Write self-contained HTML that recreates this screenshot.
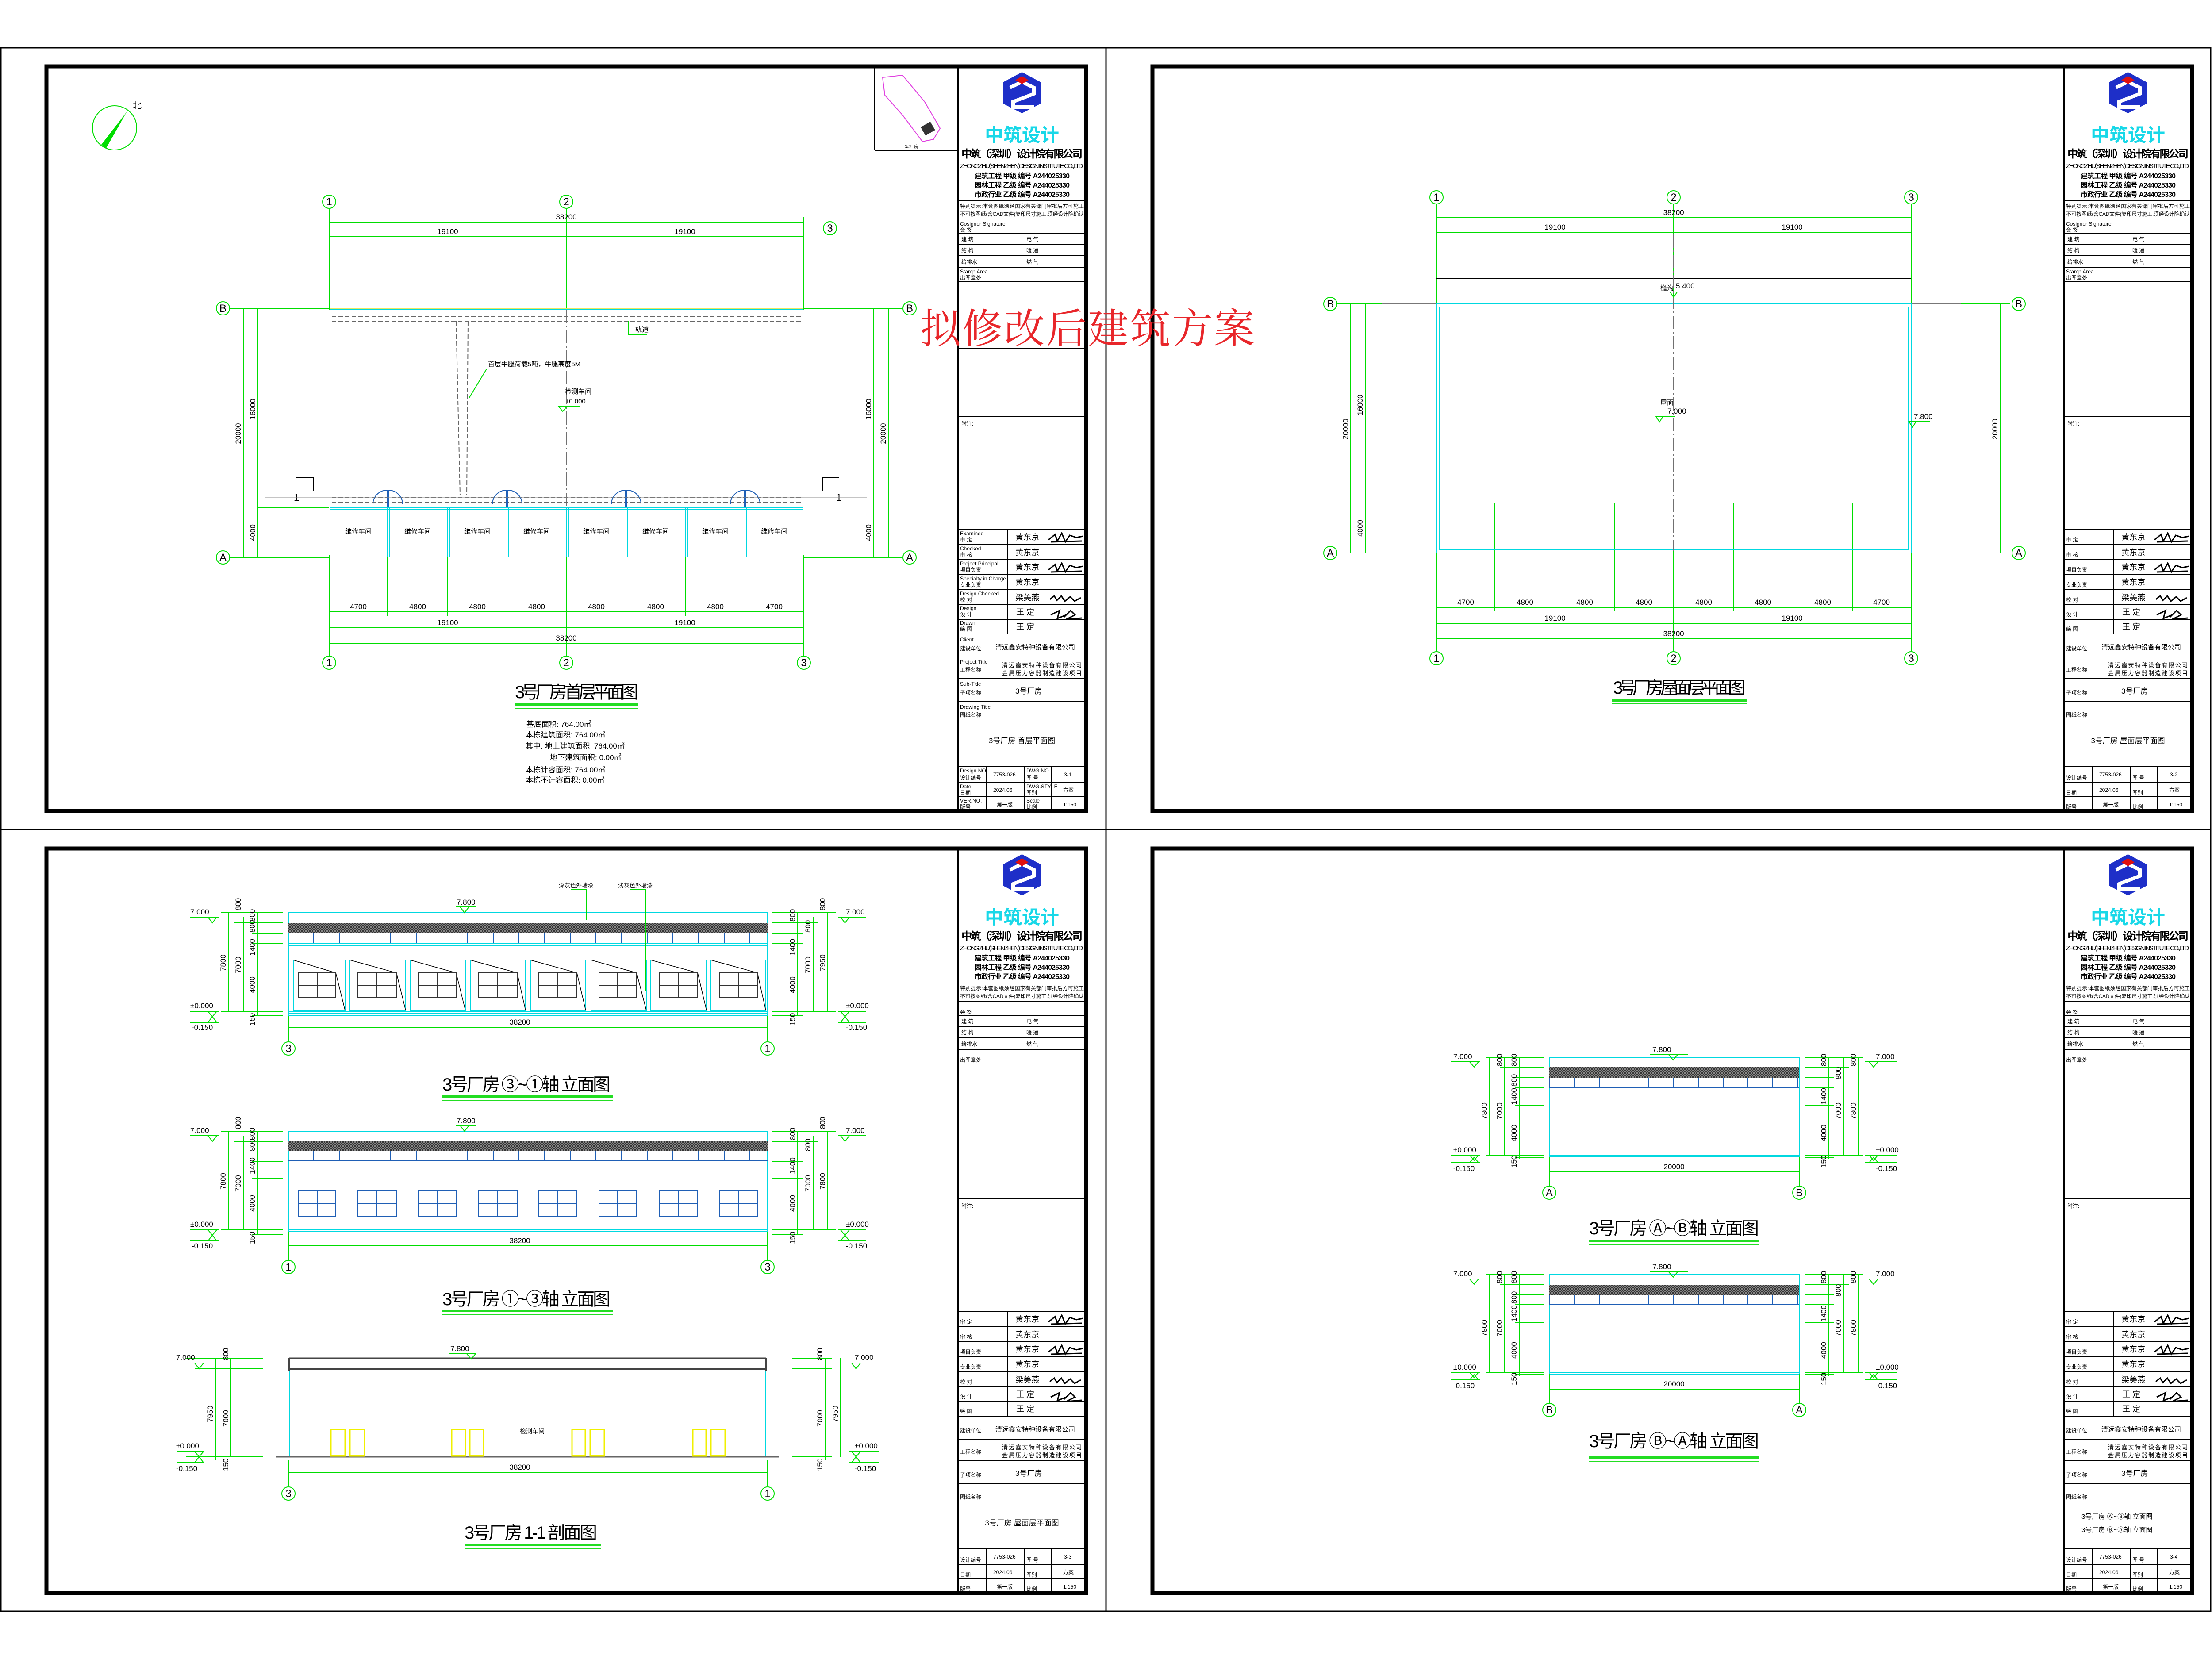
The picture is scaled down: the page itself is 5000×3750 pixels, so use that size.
<!DOCTYPE html>
<html><head><meta charset="utf-8"><style>
html,body{margin:0;padding:0;background:#fff;width:5000px;height:3750px;overflow:hidden}
svg{display:block}
text{font-family:"Liberation Sans","Noto Sans CJK SC",sans-serif;fill:#000}
.g{stroke:#00dd00;fill:none;stroke-width:2}
.c{stroke:#00d8e0;fill:none;stroke-width:2}
.k{stroke:#000;fill:none}
.gr{stroke:#707070;fill:none;stroke-width:2;stroke-dasharray:30 6 4 6}
.b{stroke:#1f5fb5;fill:none;stroke-width:2}
.d{font-size:17px}
.ax{font-size:24px;text-anchor:middle}
.t{font-size:40px}
.tb{font-size:12px}
</style></head><body>
<svg width="5000" height="3750" viewBox="0 0 5000 3750" xmlns="http://www.w3.org/2000/svg">
<defs>
<pattern id="hatch" width="6" height="6" patternUnits="userSpaceOnUse"><rect width="6" height="6" fill="#888"/><rect width="3" height="3" fill="#333"/><rect x="3" y="3" width="3" height="3" fill="#333"/></pattern>
</defs>
<rect x="0" y="0" width="5000" height="3750" fill="#fff"/>
<!-- sheet lines -->
<g class="k" stroke-width="3">
<rect x="2" y="108" width="4995" height="3534"/>
<line x1="2500" y1="108" x2="2500" y2="3642"/>
<line x1="2" y1="1875" x2="4997" y2="1875"/>
</g>
<!-- frames -->
<g class="k" stroke-width="9">
<rect x="105" y="150" width="2350" height="1683"/>
<rect x="2605" y="150" width="2350" height="1683"/>
<rect x="105" y="1918" width="2350" height="1683"/>
<rect x="2605" y="1918" width="2350" height="1683"/>
</g>

<!-- ============ TITLE BLOCKS ============ -->
<g transform="translate(2165,150)">
<g class="k" stroke-width="2"><line x1="0" y1="0" x2="0" y2="1683" stroke-width="4"/>
<line x1="0" y1="304" x2="290" y2="304"/><line x1="0" y1="345" x2="290" y2="345"/><line x1="0" y1="377" x2="290" y2="377"/><line x1="0" y1="402" x2="290" y2="402"/><line x1="0" y1="427" x2="290" y2="427"/><line x1="0" y1="454" x2="290" y2="454"/><line x1="0" y1="487" x2="290" y2="487"/><line x1="0" y1="638" x2="290" y2="638"/><line x1="0" y1="792" x2="290" y2="792"/>
<line x1="48" y1="377" x2="48" y2="454"/><line x1="145" y1="377" x2="145" y2="454"/><line x1="197" y1="377" x2="197" y2="454"/>
<line x1="0" y1="1046" x2="290" y2="1046"/><line x1="0" y1="1080" x2="290" y2="1080"/><line x1="0" y1="1115" x2="290" y2="1115"/><line x1="0" y1="1148" x2="290" y2="1148"/><line x1="0" y1="1183" x2="290" y2="1183"/><line x1="0" y1="1217" x2="290" y2="1217"/><line x1="0" y1="1250" x2="290" y2="1250"/><line x1="0" y1="1283" x2="290" y2="1283"/>
<line x1="112" y1="1046" x2="112" y2="1283"/><line x1="197" y1="1046" x2="197" y2="1283"/>
<line x1="0" y1="1335" x2="290" y2="1335"/><line x1="0" y1="1384" x2="290" y2="1384"/><line x1="0" y1="1436" x2="290" y2="1436"/><line x1="0" y1="1582" x2="290" y2="1582"/><line x1="0" y1="1618" x2="290" y2="1618"/><line x1="0" y1="1651" x2="290" y2="1651"/>
<line x1="65" y1="1582" x2="65" y2="1683"/><line x1="150" y1="1582" x2="150" y2="1683"/><line x1="212" y1="1582" x2="212" y2="1683"/></g>
<polygon points="145,13 188,36 188,84 145,106 102,84 102,36" fill="#1e2fc8"/>
<polyline points="118,48 145,35 172,48 172,62 125,80 125,92 172,92" fill="none" stroke="#fff" stroke-width="8"/>
<polygon points="145,22 160,31 145,40 130,31" fill="#e01010"/>
<text x="145" y="170" font-size="42" font-weight="bold" text-anchor="middle" style="fill:#18d8e8">中筑设计</text>
<text x="8" y="206" font-size="24" font-weight="bold" textLength="274">中筑（深圳）设计院有限公司</text>
<text x="5" y="230" font-size="15" textLength="280">ZHONGZHU(SHENZHEN)DESIGN INSTITUTE CO.,LTD.</text>
<text x="38" y="253" font-size="16" font-weight="bold" textLength="215">建筑工程 甲级  编号 A244025330</text>
<text x="38" y="274" font-size="16" font-weight="bold" textLength="215">园林工程 乙级  编号 A244025330</text>
<text x="38" y="295" font-size="16" font-weight="bold" textLength="215">市政行业 乙级  编号 A244025330</text>
<text x="5" y="320" class="tb" textLength="280">特别提示:本套图纸须经国家有关部门审批后方可施工</text>
<text x="5" y="338" class="tb" textLength="280">不可按图纸(含CAD文件)复印尺寸施工,须经设计院确认</text>
<text x="5" y="360" class="tb">Cosigner Signature</text><text x="5" y="374" class="tb">会 签</text>
<text x="8" y="395" class="tb">建 筑</text><text x="155" y="395" class="tb">电 气</text>
<text x="8" y="420" class="tb">结 构</text><text x="155" y="420" class="tb">暖 通</text>
<text x="8" y="446" class="tb">给排水</text><text x="155" y="446" class="tb">燃 气</text>
<text x="5" y="468" class="tb">Stamp Area</text><text x="5" y="482" class="tb">出图章处</text>
<text x="8" y="812" class="tb">附注:</text>
<g class="tb"><text x="5" y="1060" class="tb">Examined</text><text x="5" y="1074" class="tb">审 定</text>
<text x="5" y="1094" class="tb">Checked</text><text x="5" y="1108" class="tb">审 核</text>
<text x="5" y="1128" class="tb">Project Principal</text><text x="5" y="1142" class="tb">项目负责</text>
<text x="5" y="1162" class="tb">Specialty in Charge</text><text x="5" y="1176" class="tb">专业负责</text>
<text x="5" y="1196" class="tb">Design Checked</text><text x="5" y="1210" class="tb">校 对</text>
<text x="5" y="1229" class="tb">Design</text><text x="5" y="1243" class="tb">设 计</text>
<text x="5" y="1262" class="tb">Drawn</text><text x="5" y="1276" class="tb">绘 图</text></g>
<g font-size="18"><text x="130" y="1070">黄东京</text><text x="130" y="1105">黄东京</text><text x="130" y="1138">黄东京</text><text x="130" y="1172">黄东京</text><text x="130" y="1207">梁美燕</text><text x="132" y="1240">王 定</text><text x="132" y="1273">王 定</text></g>
<g stroke="#000" stroke-width="3" fill="none">
<path d="M205,1070 l15,-12 l5,15 l10,-18 l8,20 l10,-15 l15,5 l15,-3 M210,1075 l70,-2"/>
<path d="M205,1138 l15,-12 l5,15 l10,-18 l8,20 l10,-15 l15,5 l15,-3 M210,1143 l70,-2"/>
<path d="M208,1205 l10,-8 l6,10 l10,-10 l8,12 l12,-10 l10,10 l14,-8"/>
<path d="M210,1240 l20,-10 l-5,18 l20,-8 M240,1245 l15,-15 l10,10 l-20,10 l35,-3"/>
</g>
<text x="5" y="1300" class="tb">Client</text><text x="5" y="1320" class="tb">建设单位</text>
<text x="85" y="1318" font-size="15">清远鑫安特种设备有限公司</text>
<text x="5" y="1350" class="tb">Project Title</text><text x="5" y="1368" class="tb">工程名称</text>
<text x="100" y="1358" font-size="13" textLength="180">清远鑫安特种设备有限公司</text>
<text x="100" y="1376" font-size="13" textLength="180">金属压力容器制造建设项目</text>
<text x="5" y="1400" class="tb">Sub-Title</text><text x="5" y="1420" class="tb">子项名称</text>
<text x="130" y="1418" font-size="17">3号厂房</text>
<text x="5" y="1452" class="tb">Drawing Title</text><text x="5" y="1470" class="tb">图纸名称</text>
<text x="5" y="1596" class="tb">Design NO.</text><text x="5" y="1612" class="tb">设计编号</text><text x="80" y="1605" class="tb">7753-026</text>
<text x="155" y="1596" class="tb">DWG.NO.</text><text x="155" y="1612" class="tb">图 号</text>
<text x="5" y="1632" class="tb">Date</text><text x="5" y="1646" class="tb">日期</text><text x="80" y="1640" class="tb">2024.06</text>
<text x="155" y="1632" class="tb">DWG.STYLE</text><text x="155" y="1646" class="tb">图别</text><text x="238" y="1640" class="tb">方案</text>
<text x="5" y="1664" class="tb">VER.NO.</text><text x="5" y="1678" class="tb">版号</text><text x="88" y="1673" class="tb">第一版</text>
<text x="155" y="1664" class="tb">Scale</text><text x="155" y="1678" class="tb">比例</text><text x="238" y="1673" class="tb">1:150</text>
<text x="145" y="1530" font-size="17" text-anchor="middle">3号厂房 首层平面图</text>
<text x="240" y="1605" class="tb">3-1</text>
</g>

<g transform="translate(4665,150)">
<g class="k" stroke-width="2"><line x1="0" y1="0" x2="0" y2="1683" stroke-width="4"/>
<line x1="0" y1="304" x2="290" y2="304"/><line x1="0" y1="345" x2="290" y2="345"/><line x1="0" y1="377" x2="290" y2="377"/><line x1="0" y1="402" x2="290" y2="402"/><line x1="0" y1="427" x2="290" y2="427"/><line x1="0" y1="454" x2="290" y2="454"/><line x1="0" y1="487" x2="290" y2="487"/><line x1="0" y1="792" x2="290" y2="792"/>
<line x1="48" y1="377" x2="48" y2="454"/><line x1="145" y1="377" x2="145" y2="454"/><line x1="197" y1="377" x2="197" y2="454"/>
<line x1="0" y1="1046" x2="290" y2="1046"/><line x1="0" y1="1080" x2="290" y2="1080"/><line x1="0" y1="1115" x2="290" y2="1115"/><line x1="0" y1="1148" x2="290" y2="1148"/><line x1="0" y1="1183" x2="290" y2="1183"/><line x1="0" y1="1217" x2="290" y2="1217"/><line x1="0" y1="1250" x2="290" y2="1250"/><line x1="0" y1="1283" x2="290" y2="1283"/>
<line x1="112" y1="1046" x2="112" y2="1283"/><line x1="197" y1="1046" x2="197" y2="1283"/>
<line x1="0" y1="1335" x2="290" y2="1335"/><line x1="0" y1="1384" x2="290" y2="1384"/><line x1="0" y1="1436" x2="290" y2="1436"/><line x1="0" y1="1582" x2="290" y2="1582"/><line x1="0" y1="1618" x2="290" y2="1618"/><line x1="0" y1="1651" x2="290" y2="1651"/>
<line x1="65" y1="1582" x2="65" y2="1683"/><line x1="150" y1="1582" x2="150" y2="1683"/><line x1="212" y1="1582" x2="212" y2="1683"/></g>
<polygon points="145,13 188,36 188,84 145,106 102,84 102,36" fill="#1e2fc8"/>
<polyline points="118,48 145,35 172,48 172,62 125,80 125,92 172,92" fill="none" stroke="#fff" stroke-width="8"/>
<polygon points="145,22 160,31 145,40 130,31" fill="#e01010"/>
<text x="145" y="170" font-size="42" font-weight="bold" text-anchor="middle" style="fill:#18d8e8">中筑设计</text>
<text x="8" y="206" font-size="24" font-weight="bold" textLength="274">中筑（深圳）设计院有限公司</text>
<text x="5" y="230" font-size="15" textLength="280">ZHONGZHU(SHENZHEN)DESIGN INSTITUTE CO.,LTD.</text>
<text x="38" y="253" font-size="16" font-weight="bold" textLength="215">建筑工程 甲级  编号 A244025330</text>
<text x="38" y="274" font-size="16" font-weight="bold" textLength="215">园林工程 乙级  编号 A244025330</text>
<text x="38" y="295" font-size="16" font-weight="bold" textLength="215">市政行业 乙级  编号 A244025330</text>
<text x="5" y="320" class="tb" textLength="280">特别提示:本套图纸须经国家有关部门审批后方可施工</text>
<text x="5" y="338" class="tb" textLength="280">不可按图纸(含CAD文件)复印尺寸施工,须经设计院确认</text>
<text x="5" y="360" class="tb">Cosigner Signature</text><text x="5" y="374" class="tb">会 签</text>
<text x="8" y="395" class="tb">建 筑</text><text x="155" y="395" class="tb">电 气</text>
<text x="8" y="420" class="tb">结 构</text><text x="155" y="420" class="tb">暖 通</text>
<text x="8" y="446" class="tb">给排水</text><text x="155" y="446" class="tb">燃 气</text>
<text x="5" y="468" class="tb">Stamp Area</text><text x="5" y="482" class="tb">出图章处</text>
<text x="8" y="812" class="tb">附注:</text>
<text x="5" y="1074" class="tb">审 定</text><text x="5" y="1108" class="tb">审 核</text><text x="5" y="1142" class="tb">项目负责</text><text x="5" y="1176" class="tb">专业负责</text><text x="5" y="1210" class="tb">校 对</text><text x="5" y="1243" class="tb">设 计</text><text x="5" y="1276" class="tb">绘 图</text>
<g font-size="18"><text x="130" y="1070">黄东京</text><text x="130" y="1105">黄东京</text><text x="130" y="1138">黄东京</text><text x="130" y="1172">黄东京</text><text x="130" y="1207">梁美燕</text><text x="132" y="1240">王 定</text><text x="132" y="1273">王 定</text></g>
<g stroke="#000" stroke-width="3" fill="none">
<path d="M205,1070 l15,-12 l5,15 l10,-18 l8,20 l10,-15 l15,5 l15,-3 M210,1075 l70,-2"/>
<path d="M205,1138 l15,-12 l5,15 l10,-18 l8,20 l10,-15 l15,5 l15,-3 M210,1143 l70,-2"/>
<path d="M208,1205 l10,-8 l6,10 l10,-10 l8,12 l12,-10 l10,10 l14,-8"/>
<path d="M210,1240 l20,-10 l-5,18 l20,-8 M240,1245 l15,-15 l10,10 l-20,10 l35,-3"/>
</g>
<text x="5" y="1320" class="tb">建设单位</text><text x="85" y="1318" font-size="15">清远鑫安特种设备有限公司</text>
<text x="5" y="1368" class="tb">工程名称</text>
<text x="100" y="1358" font-size="13" textLength="180">清远鑫安特种设备有限公司</text>
<text x="100" y="1376" font-size="13" textLength="180">金属压力容器制造建设项目</text>
<text x="5" y="1420" class="tb">子项名称</text><text x="130" y="1418" font-size="17">3号厂房</text>
<text x="5" y="1470" class="tb">图纸名称</text>
<text x="5" y="1612" class="tb">设计编号</text><text x="80" y="1605" class="tb">7753-026</text><text x="155" y="1612" class="tb">图 号</text><text x="240" y="1605" class="tb">3-2</text>
<text x="5" y="1646" class="tb">日期</text><text x="80" y="1640" class="tb">2024.06</text><text x="155" y="1646" class="tb">图别</text><text x="238" y="1640" class="tb">方案</text>
<text x="5" y="1678" class="tb">版号</text><text x="88" y="1673" class="tb">第一版</text><text x="155" y="1678" class="tb">比例</text><text x="238" y="1673" class="tb">1:150</text>
<text x="145" y="1530" font-size="17" text-anchor="middle">3号厂房 屋面层平面图</text>
</g>

<g transform="translate(2165,1918)">
<g class="k" stroke-width="2"><line x1="0" y1="0" x2="0" y2="1683" stroke-width="4"/>
<line x1="0" y1="304" x2="290" y2="304"/><line x1="0" y1="345" x2="290" y2="345"/><line x1="0" y1="377" x2="290" y2="377"/><line x1="0" y1="402" x2="290" y2="402"/><line x1="0" y1="427" x2="290" y2="427"/><line x1="0" y1="454" x2="290" y2="454"/><line x1="0" y1="487" x2="290" y2="487"/><line x1="0" y1="792" x2="290" y2="792"/>
<line x1="48" y1="377" x2="48" y2="454"/><line x1="145" y1="377" x2="145" y2="454"/><line x1="197" y1="377" x2="197" y2="454"/>
<line x1="0" y1="1046" x2="290" y2="1046"/><line x1="0" y1="1080" x2="290" y2="1080"/><line x1="0" y1="1115" x2="290" y2="1115"/><line x1="0" y1="1148" x2="290" y2="1148"/><line x1="0" y1="1183" x2="290" y2="1183"/><line x1="0" y1="1217" x2="290" y2="1217"/><line x1="0" y1="1250" x2="290" y2="1250"/><line x1="0" y1="1283" x2="290" y2="1283"/>
<line x1="112" y1="1046" x2="112" y2="1283"/><line x1="197" y1="1046" x2="197" y2="1283"/>
<line x1="0" y1="1335" x2="290" y2="1335"/><line x1="0" y1="1384" x2="290" y2="1384"/><line x1="0" y1="1436" x2="290" y2="1436"/><line x1="0" y1="1582" x2="290" y2="1582"/><line x1="0" y1="1618" x2="290" y2="1618"/><line x1="0" y1="1651" x2="290" y2="1651"/>
<line x1="65" y1="1582" x2="65" y2="1683"/><line x1="150" y1="1582" x2="150" y2="1683"/><line x1="212" y1="1582" x2="212" y2="1683"/></g>
<polygon points="145,13 188,36 188,84 145,106 102,84 102,36" fill="#1e2fc8"/>
<polyline points="118,48 145,35 172,48 172,62 125,80 125,92 172,92" fill="none" stroke="#fff" stroke-width="8"/>
<polygon points="145,22 160,31 145,40 130,31" fill="#e01010"/>
<text x="145" y="170" font-size="42" font-weight="bold" text-anchor="middle" style="fill:#18d8e8">中筑设计</text>
<text x="8" y="206" font-size="24" font-weight="bold" textLength="274">中筑（深圳）设计院有限公司</text>
<text x="5" y="230" font-size="15" textLength="280">ZHONGZHU(SHENZHEN)DESIGN INSTITUTE CO.,LTD.</text>
<text x="38" y="253" font-size="16" font-weight="bold" textLength="215">建筑工程 甲级  编号 A244025330</text>
<text x="38" y="274" font-size="16" font-weight="bold" textLength="215">园林工程 乙级  编号 A244025330</text>
<text x="38" y="295" font-size="16" font-weight="bold" textLength="215">市政行业 乙级  编号 A244025330</text>
<text x="5" y="320" class="tb" textLength="280">特别提示:本套图纸须经国家有关部门审批后方可施工</text>
<text x="5" y="338" class="tb" textLength="280">不可按图纸(含CAD文件)复印尺寸施工,须经设计院确认</text>
<text x="5" y="374" class="tb">会 签</text>
<text x="8" y="395" class="tb">建 筑</text><text x="155" y="395" class="tb">电 气</text>
<text x="8" y="420" class="tb">结 构</text><text x="155" y="420" class="tb">暖 通</text>
<text x="8" y="446" class="tb">给排水</text><text x="155" y="446" class="tb">燃 气</text>
<text x="5" y="482" class="tb">出图章处</text>
<text x="8" y="812" class="tb">附注:</text>
<text x="5" y="1074" class="tb">审 定</text><text x="5" y="1108" class="tb">审 核</text><text x="5" y="1142" class="tb">项目负责</text><text x="5" y="1176" class="tb">专业负责</text><text x="5" y="1210" class="tb">校 对</text><text x="5" y="1243" class="tb">设 计</text><text x="5" y="1276" class="tb">绘 图</text>
<g font-size="18"><text x="130" y="1070">黄东京</text><text x="130" y="1105">黄东京</text><text x="130" y="1138">黄东京</text><text x="130" y="1172">黄东京</text><text x="130" y="1207">梁美燕</text><text x="132" y="1240">王 定</text><text x="132" y="1273">王 定</text></g>
<g stroke="#000" stroke-width="3" fill="none">
<path d="M205,1070 l15,-12 l5,15 l10,-18 l8,20 l10,-15 l15,5 l15,-3 M210,1075 l70,-2"/>
<path d="M205,1138 l15,-12 l5,15 l10,-18 l8,20 l10,-15 l15,5 l15,-3 M210,1143 l70,-2"/>
<path d="M208,1205 l10,-8 l6,10 l10,-10 l8,12 l12,-10 l10,10 l14,-8"/>
<path d="M210,1240 l20,-10 l-5,18 l20,-8 M240,1245 l15,-15 l10,10 l-20,10 l35,-3"/>
</g>
<text x="5" y="1320" class="tb">建设单位</text><text x="85" y="1318" font-size="15">清远鑫安特种设备有限公司</text>
<text x="5" y="1368" class="tb">工程名称</text>
<text x="100" y="1358" font-size="13" textLength="180">清远鑫安特种设备有限公司</text>
<text x="100" y="1376" font-size="13" textLength="180">金属压力容器制造建设项目</text>
<text x="5" y="1420" class="tb">子项名称</text><text x="130" y="1418" font-size="17">3号厂房</text>
<text x="5" y="1470" class="tb">图纸名称</text>
<text x="5" y="1612" class="tb">设计编号</text><text x="80" y="1605" class="tb">7753-026</text><text x="155" y="1612" class="tb">图 号</text><text x="240" y="1605" class="tb">3-3</text>
<text x="5" y="1646" class="tb">日期</text><text x="80" y="1640" class="tb">2024.06</text><text x="155" y="1646" class="tb">图别</text><text x="238" y="1640" class="tb">方案</text>
<text x="5" y="1678" class="tb">版号</text><text x="88" y="1673" class="tb">第一版</text><text x="155" y="1678" class="tb">比例</text><text x="238" y="1673" class="tb">1:150</text>
<text x="145" y="1530" font-size="17" text-anchor="middle">3号厂房 屋面层平面图</text>
</g>

<g transform="translate(4665,1918)">
<g class="k" stroke-width="2"><line x1="0" y1="0" x2="0" y2="1683" stroke-width="4"/>
<line x1="0" y1="304" x2="290" y2="304"/><line x1="0" y1="345" x2="290" y2="345"/><line x1="0" y1="377" x2="290" y2="377"/><line x1="0" y1="402" x2="290" y2="402"/><line x1="0" y1="427" x2="290" y2="427"/><line x1="0" y1="454" x2="290" y2="454"/><line x1="0" y1="487" x2="290" y2="487"/><line x1="0" y1="792" x2="290" y2="792"/>
<line x1="48" y1="377" x2="48" y2="454"/><line x1="145" y1="377" x2="145" y2="454"/><line x1="197" y1="377" x2="197" y2="454"/>
<line x1="0" y1="1046" x2="290" y2="1046"/><line x1="0" y1="1080" x2="290" y2="1080"/><line x1="0" y1="1115" x2="290" y2="1115"/><line x1="0" y1="1148" x2="290" y2="1148"/><line x1="0" y1="1183" x2="290" y2="1183"/><line x1="0" y1="1217" x2="290" y2="1217"/><line x1="0" y1="1250" x2="290" y2="1250"/><line x1="0" y1="1283" x2="290" y2="1283"/>
<line x1="112" y1="1046" x2="112" y2="1283"/><line x1="197" y1="1046" x2="197" y2="1283"/>
<line x1="0" y1="1335" x2="290" y2="1335"/><line x1="0" y1="1384" x2="290" y2="1384"/><line x1="0" y1="1436" x2="290" y2="1436"/><line x1="0" y1="1582" x2="290" y2="1582"/><line x1="0" y1="1618" x2="290" y2="1618"/><line x1="0" y1="1651" x2="290" y2="1651"/>
<line x1="65" y1="1582" x2="65" y2="1683"/><line x1="150" y1="1582" x2="150" y2="1683"/><line x1="212" y1="1582" x2="212" y2="1683"/></g>
<polygon points="145,13 188,36 188,84 145,106 102,84 102,36" fill="#1e2fc8"/>
<polyline points="118,48 145,35 172,48 172,62 125,80 125,92 172,92" fill="none" stroke="#fff" stroke-width="8"/>
<polygon points="145,22 160,31 145,40 130,31" fill="#e01010"/>
<text x="145" y="170" font-size="42" font-weight="bold" text-anchor="middle" style="fill:#18d8e8">中筑设计</text>
<text x="8" y="206" font-size="24" font-weight="bold" textLength="274">中筑（深圳）设计院有限公司</text>
<text x="5" y="230" font-size="15" textLength="280">ZHONGZHU(SHENZHEN)DESIGN INSTITUTE CO.,LTD.</text>
<text x="38" y="253" font-size="16" font-weight="bold" textLength="215">建筑工程 甲级  编号 A244025330</text>
<text x="38" y="274" font-size="16" font-weight="bold" textLength="215">园林工程 乙级  编号 A244025330</text>
<text x="38" y="295" font-size="16" font-weight="bold" textLength="215">市政行业 乙级  编号 A244025330</text>
<text x="5" y="320" class="tb" textLength="280">特别提示:本套图纸须经国家有关部门审批后方可施工</text>
<text x="5" y="338" class="tb" textLength="280">不可按图纸(含CAD文件)复印尺寸施工,须经设计院确认</text>
<text x="5" y="374" class="tb">会 签</text>
<text x="8" y="395" class="tb">建 筑</text><text x="155" y="395" class="tb">电 气</text>
<text x="8" y="420" class="tb">结 构</text><text x="155" y="420" class="tb">暖 通</text>
<text x="8" y="446" class="tb">给排水</text><text x="155" y="446" class="tb">燃 气</text>
<text x="5" y="482" class="tb">出图章处</text>
<text x="8" y="812" class="tb">附注:</text>
<text x="5" y="1074" class="tb">审 定</text><text x="5" y="1108" class="tb">审 核</text><text x="5" y="1142" class="tb">项目负责</text><text x="5" y="1176" class="tb">专业负责</text><text x="5" y="1210" class="tb">校 对</text><text x="5" y="1243" class="tb">设 计</text><text x="5" y="1276" class="tb">绘 图</text>
<g font-size="18"><text x="130" y="1070">黄东京</text><text x="130" y="1105">黄东京</text><text x="130" y="1138">黄东京</text><text x="130" y="1172">黄东京</text><text x="130" y="1207">梁美燕</text><text x="132" y="1240">王 定</text><text x="132" y="1273">王 定</text></g>
<g stroke="#000" stroke-width="3" fill="none">
<path d="M205,1070 l15,-12 l5,15 l10,-18 l8,20 l10,-15 l15,5 l15,-3 M210,1075 l70,-2"/>
<path d="M205,1138 l15,-12 l5,15 l10,-18 l8,20 l10,-15 l15,5 l15,-3 M210,1143 l70,-2"/>
<path d="M208,1205 l10,-8 l6,10 l10,-10 l8,12 l12,-10 l10,10 l14,-8"/>
<path d="M210,1240 l20,-10 l-5,18 l20,-8 M240,1245 l15,-15 l10,10 l-20,10 l35,-3"/>
</g>
<text x="5" y="1320" class="tb">建设单位</text><text x="85" y="1318" font-size="15">清远鑫安特种设备有限公司</text>
<text x="5" y="1368" class="tb">工程名称</text>
<text x="100" y="1358" font-size="13" textLength="180">清远鑫安特种设备有限公司</text>
<text x="100" y="1376" font-size="13" textLength="180">金属压力容器制造建设项目</text>
<text x="5" y="1420" class="tb">子项名称</text><text x="130" y="1418" font-size="17">3号厂房</text>
<text x="5" y="1470" class="tb">图纸名称</text>
<text x="5" y="1612" class="tb">设计编号</text><text x="80" y="1605" class="tb">7753-026</text><text x="155" y="1612" class="tb">图 号</text><text x="240" y="1605" class="tb">3-4</text>
<text x="5" y="1646" class="tb">日期</text><text x="80" y="1640" class="tb">2024.06</text><text x="155" y="1646" class="tb">图别</text><text x="238" y="1640" class="tb">方案</text>
<text x="5" y="1678" class="tb">版号</text><text x="88" y="1673" class="tb">第一版</text><text x="155" y="1678" class="tb">比例</text><text x="238" y="1673" class="tb">1:150</text>
<text x="40" y="1515" font-size="15">3号厂房 Ⓐ~Ⓑ轴 立面图</text>
<text x="40" y="1545" font-size="15">3号厂房 Ⓑ~Ⓐ轴 立面图</text>
</g>

<!-- ============ TL: FLOOR PLAN ============ -->
<circle cx="259" cy="289" r="50" class="g"/>
<polygon points="287,252 229,327 240,335" fill="#00dd00"/>
<text x="300" y="245" font-size="20">北</text>
<!-- site inset -->
<g class="k" stroke-width="2"><line x1="1977" y1="150" x2="1977" y2="340"/><line x1="1977" y1="340" x2="2165" y2="340"/></g>
<path d="M1995,175 L2040,170 L2090,230 L2125,290 L2110,315 L2085,320 L2040,260 L2000,215 Z" fill="none" stroke="#e040e0" stroke-width="2"/>
<rect x="2085" y="280" width="25" height="22" fill="#333" transform="rotate(-30 2097 291)"/>
<text x="2045" y="335" font-size="10">3#厂房</text>

<g id="planAxes">
<g class="g">
<line x1="744" y1="470" x2="744" y2="700"/><line x1="1280" y1="470" x2="1280" y2="700"/><line x1="1817" y1="490" x2="1817" y2="700"/>
<line x1="744" y1="1255" x2="744" y2="1484"/><line x1="1280" y1="1255" x2="1280" y2="1484"/><line x1="1817" y1="1255" x2="1817" y2="1484"/>
<line x1="744" y1="502" x2="1817" y2="502"/><line x1="744" y1="535" x2="1817" y2="535"/>
<line x1="744" y1="1383" x2="1817" y2="1383"/><line x1="744" y1="1419" x2="1817" y2="1419"/><line x1="744" y1="1454" x2="1817" y2="1454"/>
<line x1="876" y1="1260" x2="876" y2="1392"/><line x1="1012" y1="1260" x2="1012" y2="1392"/><line x1="1146" y1="1260" x2="1146" y2="1392"/><line x1="1415" y1="1260" x2="1415" y2="1392"/><line x1="1550" y1="1260" x2="1550" y2="1392"/><line x1="1684" y1="1260" x2="1684" y2="1392"/>
<line x1="519" y1="697" x2="744" y2="697"/><line x1="1817" y1="697" x2="2041" y2="697"/>
<line x1="519" y1="1260" x2="744" y2="1260"/><line x1="1817" y1="1260" x2="2041" y2="1260"/>
<line x1="583" y1="1147" x2="744" y2="1147"/>
<line x1="550" y1="697" x2="550" y2="1260"/><line x1="583" y1="697" x2="583" y2="1260"/>
<line x1="1975" y1="697" x2="1975" y2="1260"/><line x1="2008" y1="697" x2="2008" y2="1260"/>
<circle cx="744" cy="456" r="15"/><circle cx="1280" cy="456" r="15"/><circle cx="1876" cy="516" r="15"/>
<circle cx="744" cy="1498" r="15"/><circle cx="1280" cy="1498" r="15"/><circle cx="1817" cy="1498" r="15"/>
<circle cx="504" cy="697" r="15"/><circle cx="2056" cy="697" r="15"/><circle cx="504" cy="1260" r="15"/><circle cx="2056" cy="1260" r="15"/>
</g>
<g class="ax"><text x="744" y="464">1</text><text x="1280" y="464">2</text><text x="1876" y="524">3</text><text x="744" y="1506">1</text><text x="1280" y="1506">2</text><text x="1817" y="1506">3</text><text x="504" y="705">B</text><text x="2056" y="705">B</text><text x="504" y="1268">A</text><text x="2056" y="1268">A</text></g>
<g class="d" text-anchor="middle"><text x="1280" y="496">38200</text><text x="1012" y="529">19100</text><text x="1548" y="529">19100</text>
<text x="810" y="1377">4700</text><text x="944" y="1377">4800</text><text x="1079" y="1377">4800</text><text x="1213" y="1377">4800</text><text x="1348" y="1377">4800</text><text x="1482" y="1377">4800</text><text x="1617" y="1377">4800</text><text x="1750" y="1377">4700</text>
<text x="1012" y="1413">19100</text><text x="1548" y="1413">19100</text><text x="1280" y="1448">38200</text>
<text transform="translate(544,980) rotate(-90)">20000</text><text transform="translate(577,925) rotate(-90)">16000</text><text transform="translate(577,1204) rotate(-90)">4000</text>
<text transform="translate(1969,925) rotate(-90)">16000</text><text transform="translate(1969,1204) rotate(-90)">4000</text><text transform="translate(2002,980) rotate(-90)">20000</text></g>
</g>
<!-- TL building -->
<rect x="746" y="699" width="1069" height="560" class="c"/>
<line x1="746" y1="697" x2="1815" y2="697" stroke="#e8e860" stroke-width="2"/>
<line x1="750" y1="716" x2="1812" y2="716" stroke="#666" stroke-width="2" stroke-dasharray="10 5"/>
<line x1="750" y1="726" x2="1812" y2="726" stroke="#666" stroke-width="2" stroke-dasharray="10 5"/>
<line x1="1280" y1="700" x2="1280" y2="1255" class="gr"/>
<line x1="1031" y1="726" x2="1040" y2="1120" stroke="#666" stroke-width="2" stroke-dasharray="10 5"/>
<line x1="1058" y1="726" x2="1055" y2="1120" stroke="#666" stroke-width="2" stroke-dasharray="10 5"/>
<line x1="750" y1="1124" x2="1812" y2="1124" stroke="#666" stroke-width="2" stroke-dasharray="10 5"/>
<line x1="750" y1="1136" x2="1812" y2="1136" stroke="#666" stroke-width="2" stroke-dasharray="10 5"/>
<g class="c">
<line x1="746" y1="1147" x2="1815" y2="1147"/><line x1="746" y1="1152" x2="1815" y2="1152"/>
<line x1="876" y1="1147" x2="876" y2="1258"/><line x1="880" y1="1147" x2="880" y2="1258"/>
<line x1="1012" y1="1147" x2="1012" y2="1258"/><line x1="1016" y1="1147" x2="1016" y2="1258"/>
<line x1="1146" y1="1147" x2="1146" y2="1258"/><line x1="1150" y1="1147" x2="1150" y2="1258"/>
<line x1="1281" y1="1147" x2="1281" y2="1258"/><line x1="1285" y1="1147" x2="1285" y2="1258"/>
<line x1="1415" y1="1147" x2="1415" y2="1258"/><line x1="1419" y1="1147" x2="1419" y2="1258"/>
<line x1="1550" y1="1147" x2="1550" y2="1258"/><line x1="1554" y1="1147" x2="1554" y2="1258"/>
<line x1="1684" y1="1147" x2="1684" y2="1258"/><line x1="1688" y1="1147" x2="1688" y2="1258"/>
</g>
<g class="b" stroke-width="3">
<line x1="770" y1="1250" x2="852" y2="1250"/><line x1="903" y1="1250" x2="985" y2="1250"/><line x1="1038" y1="1250" x2="1120" y2="1250"/><line x1="1172" y1="1250" x2="1255" y2="1250"/><line x1="1306" y1="1250" x2="1389" y2="1250"/><line x1="1441" y1="1250" x2="1524" y2="1250"/><line x1="1576" y1="1250" x2="1658" y2="1250"/><line x1="1710" y1="1250" x2="1792" y2="1250"/>
<path d="M875,1146 L875,1108 A32,32 0 0 0 843,1140 M878,1146 L878,1108 A32,32 0 0 1 910,1140"/>
<path d="M1145,1146 L1145,1108 A32,32 0 0 0 1113,1140 M1148,1146 L1148,1108 A32,32 0 0 1 1180,1140"/>
<path d="M1414,1146 L1414,1108 A32,32 0 0 0 1382,1140 M1417,1146 L1417,1108 A32,32 0 0 1 1449,1140"/>
<path d="M1683,1146 L1683,1108 A32,32 0 0 0 1651,1140 M1686,1146 L1686,1108 A32,32 0 0 1 1718,1140"/>
</g>
<g font-size="15" text-anchor="middle"><text x="810" y="1206">维修车间</text><text x="944" y="1206">维修车间</text><text x="1079" y="1206">维修车间</text><text x="1213" y="1206">维修车间</text><text x="1348" y="1206">维修车间</text><text x="1482" y="1206">维修车间</text><text x="1617" y="1206">维修车间</text><text x="1750" y="1206">维修车间</text></g>
<polyline points="1420,726 1420,756 1462,756" class="g"/><text x="1436" y="750" font-size="15">轨道</text>
<polyline points="1060,900 1100,834 1277,834" class="g"/><text x="1103" y="828" font-size="15">首层牛腿荷载5吨，牛腿高度5M</text>
<text x="1277" y="890" font-size="15">检测车间</text><text x="1278" y="912" font-size="15">±0.000</text>
<polyline points="1262,918 1310,918" class="g"/><polygon points="1262,918 1282,918 1272,930" class="g"/>
<g class="k" stroke-width="2" fill="none"><polyline points="670,1080 708,1080 708,1110"/><polyline points="1897,1080 1859,1080 1859,1110"/></g>
<text x="664" y="1132" font-size="22">1</text><text x="1890" y="1132" font-size="22">1</text>
<line x1="600" y1="1124" x2="1960" y2="1124" stroke="#888" stroke-width="1"/>
<text x="1164" y="1578" class="t" textLength="279">3号厂房  首层平面图</text>
<line x1="1164" y1="1593" x2="1443" y2="1593" stroke="#22dd22" stroke-width="6"/><line x1="1164" y1="1601" x2="1443" y2="1601" stroke="#22dd22" stroke-width="2"/>
<g font-size="17"><text x="1190" y="1643">基底面积: 764.00㎡</text><text x="1188" y="1667">本栋建筑面积: 764.00㎡</text><text x="1188" y="1692">其中: 地上建筑面积: 764.00㎡</text><text x="1243" y="1718">地下建筑面积: 0.00㎡</text><text x="1188" y="1746">本栋计容面积: 764.00㎡</text><text x="1188" y="1769">本栋不计容面积: 0.00㎡</text></g>

<!-- ============ TR: ROOF PLAN ============ -->
<g transform="translate(2503,-10)">
<g class="g">
<line x1="744" y1="470" x2="744" y2="700"/><line x1="1280" y1="470" x2="1280" y2="700"/><line x1="1817" y1="470" x2="1817" y2="700"/>
<line x1="744" y1="1255" x2="744" y2="1484"/><line x1="1280" y1="1255" x2="1280" y2="1484"/><line x1="1817" y1="1255" x2="1817" y2="1484"/>
<line x1="744" y1="502" x2="1817" y2="502"/><line x1="744" y1="535" x2="1817" y2="535"/>
<line x1="744" y1="1383" x2="1817" y2="1383"/><line x1="744" y1="1419" x2="1817" y2="1419"/><line x1="744" y1="1454" x2="1817" y2="1454"/>
<line x1="876" y1="1147" x2="876" y2="1392"/><line x1="1012" y1="1147" x2="1012" y2="1392"/><line x1="1146" y1="1147" x2="1146" y2="1392"/><line x1="1415" y1="1147" x2="1415" y2="1392"/><line x1="1550" y1="1147" x2="1550" y2="1392"/><line x1="1684" y1="1147" x2="1684" y2="1392"/>
<line x1="519" y1="697" x2="620" y2="697"/><line x1="1930" y1="697" x2="2041" y2="697"/>
<line x1="519" y1="1260" x2="620" y2="1260"/><line x1="1930" y1="1260" x2="2041" y2="1260"/>
<line x1="583" y1="1147" x2="650" y2="1147"/>
<line x1="550" y1="697" x2="550" y2="1260"/><line x1="583" y1="697" x2="583" y2="1260"/>
<line x1="2018" y1="697" x2="2018" y2="1260"/>
<circle cx="744" cy="456" r="15"/><circle cx="1280" cy="456" r="15"/><circle cx="1817" cy="456" r="15"/>
<circle cx="744" cy="1498" r="15"/><circle cx="1280" cy="1498" r="15"/><circle cx="1817" cy="1498" r="15"/>
<circle cx="504" cy="697" r="15"/><circle cx="2060" cy="697" r="15"/><circle cx="504" cy="1260" r="15"/><circle cx="2060" cy="1260" r="15"/>
</g>
<g class="ax"><text x="744" y="464">1</text><text x="1280" y="464">2</text><text x="1817" y="464">3</text><text x="744" y="1506">1</text><text x="1280" y="1506">2</text><text x="1817" y="1506">3</text><text x="504" y="705">B</text><text x="2060" y="705">B</text><text x="504" y="1268">A</text><text x="2060" y="1268">A</text></g>
<g class="d" text-anchor="middle"><text x="1280" y="496">38200</text><text x="1012" y="529">19100</text><text x="1548" y="529">19100</text>
<text x="810" y="1377">4700</text><text x="944" y="1377">4800</text><text x="1079" y="1377">4800</text><text x="1213" y="1377">4800</text><text x="1348" y="1377">4800</text><text x="1482" y="1377">4800</text><text x="1617" y="1377">4800</text><text x="1750" y="1377">4700</text>
<text x="1012" y="1413">19100</text><text x="1548" y="1413">19100</text><text x="1280" y="1448">38200</text>
<text transform="translate(544,980) rotate(-90)">20000</text><text transform="translate(577,925) rotate(-90)">16000</text><text transform="translate(577,1204) rotate(-90)">4000</text>
<text transform="translate(2012,980) rotate(-90)">20000</text></g>
<line x1="744" y1="640" x2="1817" y2="640" stroke="#000" stroke-width="2"/>
<line x1="620" y1="697" x2="1930" y2="697" stroke="#777" stroke-width="2"/>
<line x1="620" y1="1260" x2="1930" y2="1260" stroke="#777" stroke-width="2"/>
<rect x="744" y="697" width="1073" height="563" class="c" stroke="#90e0a0"/>
<rect x="751" y="704" width="1059" height="549" class="c"/>
<line x1="1280" y1="540" x2="1280" y2="1255" class="gr"/>
<line x1="620" y1="1147" x2="1930" y2="1147" class="gr"/>
<text x="1250" y="666" font-size="15">檐沟</text><text x="1285" y="662" font-size="17">5.400</text>
<polyline points="1280,670 1320,670" class="g"/><polygon points="1272,670 1288,670 1280,682" class="g"/>
<text x="1250" y="925" font-size="15">屋面</text><text x="1266" y="945" font-size="17">7.000</text>
<polyline points="1240,951 1283,951" class="g"/><polygon points="1240,951 1256,951 1248,964" class="g"/>
<text x="1823" y="957" font-size="17">7.800</text>
<polyline points="1812,963 1860,963" class="g"/><polygon points="1812,963 1828,963 1820,976" class="g"/>
<text x="1143" y="1578" class="t" textLength="300">3号厂房  屋面层平面图</text>
<line x1="1140" y1="1593" x2="1445" y2="1593" stroke="#22dd22" stroke-width="6"/><line x1="1140" y1="1601" x2="1445" y2="1601" stroke="#22dd22" stroke-width="2"/>
</g>

<!-- ============ BL: ELEVATIONS & SECTION ============ -->
<!-- Elevation 3-1 -->
<g>
<rect x="652" y="2063" width="1083" height="233" class="c"/>
<rect x="652" y="2086" width="1083" height="24" fill="url(#hatch)"/>
<line x1="652" y1="2121" x2="1735" y2="2121" stroke="#1f5fb5" stroke-width="22" stroke-dasharray="2 56" stroke-dashoffset="-56"/>
<line x1="652" y1="2132" x2="1735" y2="2132" class="c"/><line x1="652" y1="2138" x2="1735" y2="2138" class="c"/>
<line x1="652" y1="2286" x2="1735" y2="2286" class="c"/><line x1="652" y1="2290" x2="1735" y2="2290" class="c"/>
<g class="c">
<rect x="663" y="2170" width="117" height="114"/><rect x="791" y="2170" width="126" height="114"/><rect x="927" y="2170" width="125" height="114"/><rect x="1063" y="2170" width="125" height="114"/><rect x="1199" y="2170" width="125" height="114"/><rect x="1336" y="2170" width="125" height="114"/><rect x="1471" y="2170" width="126" height="114"/><rect x="1607" y="2170" width="124" height="114"/>
</g>
<g class="k" stroke-width="1.5">
<path d="M663,2170 L759,2199 L780,2284"/><path d="M791,2170 L896,2199 L917,2284"/><path d="M927,2170 L1031,2199 L1052,2284"/><path d="M1063,2170 L1169,2199 L1188,2284"/><path d="M1199,2170 L1304,2199 L1324,2284"/><path d="M1336,2170 L1439,2199 L1461,2284"/><path d="M1471,2170 L1577,2199 L1597,2284"/><path d="M1607,2170 L1712,2199 L1731,2284"/>
</g>
<g stroke="#333" stroke-width="2" fill="none">
<rect x="675" y="2199" width="84" height="56"/><rect x="809" y="2199" width="87" height="56"/><rect x="946" y="2199" width="85" height="56"/><rect x="1081" y="2199" width="88" height="56"/><rect x="1218" y="2199" width="86" height="56"/><rect x="1354" y="2199" width="85" height="56"/><rect x="1491" y="2199" width="86" height="56"/><rect x="1627" y="2199" width="85" height="56"/>
<path d="M717,2199V2255M675,2227H759M852,2199V2255M809,2227H896M988,2199V2255M946,2227H1031M1125,2199V2255M1081,2227H1169M1261,2199V2255M1218,2227H1304M1396,2199V2255M1354,2227H1439M1534,2199V2255M1491,2227H1577M1669,2199V2255M1627,2227H1712"/>
</g>
<polyline points="1325,2010 1325,2080" class="g"/><polyline points="1290,2010 1325,2010" class="g"/>
<polyline points="1460,2010 1460,2240" class="g"/><polyline points="1425,2010 1460,2010" class="g"/>
<text x="1263" y="2006" font-size="13">深灰色外墙漆</text><text x="1397" y="2006" font-size="13">浅灰色外墙漆</text>
</g>
<!-- Elevation 1-3 -->
<g>
<rect x="652" y="2557" width="1083" height="226" class="c"/>
<rect x="652" y="2579" width="1083" height="23" fill="url(#hatch)"/>
<line x1="652" y1="2613" x2="1735" y2="2613" stroke="#1f5fb5" stroke-width="22" stroke-dasharray="2 56" stroke-dashoffset="-56"/>
<line x1="652" y1="2624" x2="1735" y2="2624" stroke="#1f5fb5" stroke-width="2"/>
<line x1="652" y1="2779" x2="1735" y2="2779" class="c"/>
<g class="b"><rect x="675" y="2692" width="84" height="58"/><rect x="809" y="2692" width="87" height="58"/><rect x="946" y="2692" width="85" height="58"/><rect x="1081" y="2692" width="88" height="58"/><rect x="1218" y="2692" width="86" height="58"/><rect x="1354" y="2692" width="85" height="58"/><rect x="1491" y="2692" width="86" height="58"/><rect x="1627" y="2692" width="85" height="58"/>
<path d="M717,2692V2750M675,2721H759M852,2692V2750M809,2721H896M988,2692V2750M946,2721H1031M1125,2692V2750M1081,2721H1169M1261,2692V2750M1218,2721H1304M1396,2692V2750M1354,2721H1439M1534,2692V2750M1491,2721H1577M1669,2692V2750M1627,2721H1712"/></g>
</g>
<!-- elevation dims (BL, two) -->
<g id="eldims">
<g class="g">
<line x1="652" y1="2296" x2="652" y2="2355"/><line x1="1735" y1="2296" x2="1735" y2="2355"/>
<line x1="652" y1="2322" x2="1735" y2="2322"/>
<circle cx="652" cy="2370" r="15"/><circle cx="1735" cy="2370" r="15"/>
<line x1="429" y1="2073" x2="495" y2="2073"/><polygon points="470,2073 490,2073 480,2086"/>
<line x1="429" y1="2286" x2="495" y2="2286"/><polygon points="470,2286 490,2286 480,2298"/>
<line x1="429" y1="2311" x2="495" y2="2311"/><polygon points="470,2311 490,2311 480,2298"/>
<line x1="516" y1="2063" x2="516" y2="2286"/><line x1="550" y1="2073" x2="550" y2="2286"/><line x1="582" y1="2063" x2="582" y2="2296"/>
<line x1="500" y1="2063" x2="640" y2="2063"/><line x1="530" y1="2086" x2="640" y2="2086"/><line x1="570" y1="2110" x2="640" y2="2110"/><line x1="570" y1="2132" x2="640" y2="2132"/><line x1="570" y1="2170" x2="640" y2="2170"/><line x1="500" y1="2286" x2="640" y2="2286"/><line x1="570" y1="2296" x2="640" y2="2296"/>
<line x1="1745" y1="2063" x2="1890" y2="2063"/><line x1="1745" y1="2086" x2="1850" y2="2086"/><line x1="1745" y1="2110" x2="1815" y2="2110"/><line x1="1745" y1="2132" x2="1815" y2="2132"/><line x1="1745" y1="2170" x2="1815" y2="2170"/><line x1="1745" y1="2286" x2="1890" y2="2286"/><line x1="1745" y1="2296" x2="1815" y2="2296"/>
<line x1="1803" y1="2063" x2="1803" y2="2296"/><line x1="1838" y1="2073" x2="1838" y2="2286"/><line x1="1871" y1="2063" x2="1871" y2="2286"/>
<line x1="1894" y1="2073" x2="1958" y2="2073"/><polygon points="1900,2073 1920,2073 1910,2086"/>
<line x1="1894" y1="2286" x2="1958" y2="2286"/><polygon points="1900,2286 1920,2286 1910,2298"/>
<line x1="1894" y1="2311" x2="1958" y2="2311"/><polygon points="1900,2311 1920,2311 1910,2298"/>
<line x1="1030" y1="2050" x2="1075" y2="2050"/><polygon points="1040,2050 1060,2050 1050,2063"/>
</g>
<g class="d"><text x="430" y="2067">7.000</text><text x="430" y="2279">±0.000</text><text x="433" y="2328">-0.150</text>
<text x="1912" y="2067">7.000</text><text x="1912" y="2279">±0.000</text><text x="1912" y="2328">-0.150</text>
<text x="1032" y="2045">7.800</text><text x="1175" y="2316" text-anchor="middle">38200</text>
<text transform="translate(510,2195) rotate(-90)">7800</text><text transform="translate(544,2200) rotate(-90)">7000</text>
<text transform="translate(576,2083) rotate(-90)">800</text><text transform="translate(576,2108) rotate(-90)">800</text><text transform="translate(576,2160) rotate(-90)">1400</text><text transform="translate(576,2245) rotate(-90)">4000</text><text transform="translate(576,2318) rotate(-90)">150</text>
<text transform="translate(544,2058) rotate(-90)">800</text>
<text transform="translate(1797,2083) rotate(-90)">800</text><text transform="translate(1797,2160) rotate(-90)">1400</text><text transform="translate(1797,2245) rotate(-90)">4000</text><text transform="translate(1797,2318) rotate(-90)">150</text>
<text transform="translate(1832,2200) rotate(-90)">7000</text><text transform="translate(1832,2108) rotate(-90)">800</text><text transform="translate(1865,2195) rotate(-90)">7950</text><text transform="translate(1865,2058) rotate(-90)">800</text></g>
<g class="ax"><text x="652" y="2378">3</text><text x="1735" y="2378">1</text></g>
</g>
<g transform="translate(0,494)">
<g class="g">
<line x1="652" y1="2290" x2="652" y2="2355"/><line x1="1735" y1="2290" x2="1735" y2="2355"/>
<line x1="652" y1="2322" x2="1735" y2="2322"/>
<circle cx="652" cy="2370" r="15"/><circle cx="1735" cy="2370" r="15"/>
<line x1="429" y1="2073" x2="495" y2="2073"/><polygon points="470,2073 490,2073 480,2086"/>
<line x1="429" y1="2286" x2="495" y2="2286"/><polygon points="470,2286 490,2286 480,2298"/>
<line x1="429" y1="2311" x2="495" y2="2311"/><polygon points="470,2311 490,2311 480,2298"/>
<line x1="516" y1="2063" x2="516" y2="2286"/><line x1="550" y1="2073" x2="550" y2="2286"/><line x1="582" y1="2063" x2="582" y2="2296"/>
<line x1="500" y1="2063" x2="640" y2="2063"/><line x1="530" y1="2086" x2="640" y2="2086"/><line x1="570" y1="2110" x2="640" y2="2110"/><line x1="570" y1="2132" x2="640" y2="2132"/><line x1="570" y1="2170" x2="640" y2="2170"/><line x1="500" y1="2286" x2="640" y2="2286"/><line x1="570" y1="2296" x2="640" y2="2296"/>
<line x1="1745" y1="2063" x2="1890" y2="2063"/><line x1="1745" y1="2086" x2="1850" y2="2086"/><line x1="1745" y1="2110" x2="1815" y2="2110"/><line x1="1745" y1="2132" x2="1815" y2="2132"/><line x1="1745" y1="2170" x2="1815" y2="2170"/><line x1="1745" y1="2286" x2="1890" y2="2286"/><line x1="1745" y1="2296" x2="1815" y2="2296"/>
<line x1="1803" y1="2063" x2="1803" y2="2296"/><line x1="1838" y1="2073" x2="1838" y2="2286"/><line x1="1871" y1="2063" x2="1871" y2="2286"/>
<line x1="1894" y1="2073" x2="1958" y2="2073"/><polygon points="1900,2073 1920,2073 1910,2086"/>
<line x1="1894" y1="2286" x2="1958" y2="2286"/><polygon points="1900,2286 1920,2286 1910,2298"/>
<line x1="1894" y1="2311" x2="1958" y2="2311"/><polygon points="1900,2311 1920,2311 1910,2298"/>
<line x1="1030" y1="2050" x2="1075" y2="2050"/><polygon points="1040,2050 1060,2050 1050,2063"/>
</g>
<g class="d"><text x="430" y="2067">7.000</text><text x="430" y="2279">±0.000</text><text x="433" y="2328">-0.150</text>
<text x="1912" y="2067">7.000</text><text x="1912" y="2279">±0.000</text><text x="1912" y="2328">-0.150</text>
<text x="1032" y="2045">7.800</text><text x="1175" y="2316" text-anchor="middle">38200</text>
<text transform="translate(510,2195) rotate(-90)">7800</text><text transform="translate(544,2200) rotate(-90)">7000</text>
<text transform="translate(576,2083) rotate(-90)">800</text><text transform="translate(576,2108) rotate(-90)">800</text><text transform="translate(576,2160) rotate(-90)">1400</text><text transform="translate(576,2245) rotate(-90)">4000</text><text transform="translate(576,2318) rotate(-90)">150</text>
<text transform="translate(544,2058) rotate(-90)">800</text>
<text transform="translate(1797,2083) rotate(-90)">800</text><text transform="translate(1797,2160) rotate(-90)">1400</text><text transform="translate(1797,2245) rotate(-90)">4000</text><text transform="translate(1797,2318) rotate(-90)">150</text>
<text transform="translate(1832,2200) rotate(-90)">7000</text><text transform="translate(1832,2108) rotate(-90)">800</text><text transform="translate(1865,2195) rotate(-90)">7800</text><text transform="translate(1865,2058) rotate(-90)">800</text></g>
<g class="ax"><text x="652" y="2378">1</text><text x="1735" y="2378">3</text></g>
</g>
<text x="1000" y="2465" class="t" textLength="380">3号厂房 ③~①轴 立面图</text>
<line x1="1000" y1="2479" x2="1385" y2="2479" stroke="#22dd22" stroke-width="6"/><line x1="1000" y1="2487" x2="1385" y2="2487" stroke="#22dd22" stroke-width="2"/>
<text x="1000" y="2950" class="t" textLength="380">3号厂房 ①~③轴 立面图</text>
<line x1="1000" y1="2963" x2="1385" y2="2963" stroke="#22dd22" stroke-width="6"/><line x1="1000" y1="2971" x2="1385" y2="2971" stroke="#22dd22" stroke-width="2"/>
<!-- Section 1-1 -->
<g>
<line x1="654" y1="3070" x2="1732" y2="3070" stroke="#444" stroke-width="3"/>
<line x1="654" y1="3094" x2="1732" y2="3094" stroke="#444" stroke-width="4"/>
<line x1="654" y1="3070" x2="654" y2="3100" stroke="#444" stroke-width="4"/><line x1="1732" y1="3070" x2="1732" y2="3100" stroke="#444" stroke-width="4"/>
<line x1="655" y1="3100" x2="655" y2="3293" class="c"/><line x1="1731" y1="3100" x2="1731" y2="3293" class="c"/>
<line x1="625" y1="3293" x2="1760" y2="3293" stroke="#666" stroke-width="3"/>
<g stroke="#f0f000" stroke-width="3" fill="none">
<rect x="748" y="3231" width="32" height="60"/><rect x="791" y="3231" width="33" height="60"/><rect x="1021" y="3231" width="31" height="60"/><rect x="1062" y="3231" width="31" height="60"/><rect x="1293" y="3231" width="30" height="60"/><rect x="1334" y="3231" width="32" height="60"/><rect x="1566" y="3231" width="30" height="60"/><rect x="1607" y="3231" width="32" height="60"/>
</g>
<text x="1175" y="3240" font-size="14">检测车间</text>
<g class="g">
<line x1="652" y1="3300" x2="652" y2="3360"/><line x1="1735" y1="3300" x2="1735" y2="3360"/>
<line x1="652" y1="3329" x2="1735" y2="3329"/>
<circle cx="652" cy="3376" r="15"/><circle cx="1735" cy="3376" r="15"/>
<line x1="420" y1="3070" x2="595" y2="3070"/><line x1="440" y1="3094" x2="595" y2="3094"/><line x1="420" y1="3293" x2="595" y2="3293"/>
<line x1="399" y1="3081" x2="460" y2="3081"/><polygon points="440,3081 460,3081 450,3094"/>
<line x1="399" y1="3281" x2="460" y2="3281"/><polygon points="440,3281 460,3281 450,3293"/>
<line x1="399" y1="3306" x2="460" y2="3306"/><polygon points="440,3306 460,3306 450,3293"/>
<line x1="487" y1="3070" x2="487" y2="3300"/><line x1="522" y1="3070" x2="522" y2="3293"/>
<line x1="1790" y1="3070" x2="1880" y2="3070"/><line x1="1790" y1="3094" x2="1880" y2="3094"/><line x1="1790" y1="3293" x2="1880" y2="3293"/>
<line x1="1865" y1="3070" x2="1865" y2="3300"/><line x1="1900" y1="3070" x2="1900" y2="3293"/>
<line x1="1920" y1="3081" x2="1987" y2="3081"/><polygon points="1925,3081 1945,3081 1935,3094"/>
<line x1="1920" y1="3281" x2="1987" y2="3281"/><polygon points="1925,3281 1945,3281 1935,3293"/>
<line x1="1920" y1="3306" x2="1987" y2="3306"/><polygon points="1925,3306 1945,3306 1935,3293"/>
<line x1="1015" y1="3060" x2="1060" y2="3060"/><polygon points="1055,3060 1075,3060 1065,3072"/>
</g>
<g class="d"><text x="398" y="3074">7.000</text><text x="398" y="3274">±0.000</text><text x="398" y="3325">-0.150</text>
<text x="1932" y="3074">7.000</text><text x="1932" y="3274">±0.000</text><text x="1932" y="3325">-0.150</text>
<text x="1018" y="3054">7.800</text><text x="1175" y="3322" text-anchor="middle">38200</text>
<text transform="translate(481,3215) rotate(-90)">7950</text><text transform="translate(516,3225) rotate(-90)">7000</text><text transform="translate(516,3075) rotate(-90)">800</text><text transform="translate(516,3325) rotate(-90)">150</text>
<text transform="translate(1859,3225) rotate(-90)">7000</text><text transform="translate(1859,3075) rotate(-90)">800</text><text transform="translate(1859,3325) rotate(-90)">150</text><text transform="translate(1894,3215) rotate(-90)">7950</text></g>
<g class="ax"><text x="652" y="3384">3</text><text x="1735" y="3384">1</text></g>
<text x="1050" y="3478" class="t" textLength="300">3号厂房 1-1 剖面图</text>
<line x1="1050" y1="3492" x2="1358" y2="3492" stroke="#22dd22" stroke-width="6"/><line x1="1050" y1="3500" x2="1358" y2="3500" stroke="#22dd22" stroke-width="2"/>
</g>

<!-- ============ BR: ELEVATIONS A-B ============ -->
<g id="abel">
<rect x="3502" y="2390" width="565" height="225" class="c"/>
<rect x="3502" y="2412" width="565" height="24" fill="url(#hatch)"/>
<line x1="3502" y1="2447" x2="4067" y2="2447" stroke="#1f5fb5" stroke-width="22" stroke-dasharray="2 54" stroke-dashoffset="-56"/>
<line x1="3502" y1="2458" x2="4067" y2="2458" stroke="#1f5fb5" stroke-width="2"/>
<line x1="3502" y1="2611" x2="4067" y2="2611" class="c"/>
<g class="g">
<line x1="3502" y1="2615" x2="3502" y2="2680"/><line x1="4067" y1="2615" x2="4067" y2="2680"/>
<line x1="3502" y1="2649" x2="4067" y2="2649"/>
<circle cx="3502" cy="2696" r="15"/><circle cx="4067" cy="2696" r="15"/>
<line x1="3280" y1="2400" x2="3345" y2="2400"/><polygon points="3322,2400 3342,2400 3332,2412"/>
<line x1="3280" y1="2611" x2="3345" y2="2611"/><polygon points="3322,2611 3342,2611 3332,2623"/>
<line x1="3280" y1="2628" x2="3345" y2="2628"/><polygon points="3322,2628 3342,2628 3332,2616"/>
<line x1="3367" y1="2390" x2="3367" y2="2611"/><line x1="3401" y1="2390" x2="3401" y2="2611"/><line x1="3434" y1="2390" x2="3434" y2="2620"/>
<line x1="3360" y1="2390" x2="3490" y2="2390"/><line x1="3390" y1="2412" x2="3490" y2="2412"/><line x1="3425" y1="2436" x2="3490" y2="2436"/><line x1="3425" y1="2458" x2="3490" y2="2458"/><line x1="3425" y1="2498" x2="3490" y2="2498"/><line x1="3360" y1="2611" x2="3490" y2="2611"/><line x1="3425" y1="2616" x2="3490" y2="2616"/>
<line x1="4080" y1="2390" x2="4210" y2="2390"/><line x1="4080" y1="2412" x2="4180" y2="2412"/><line x1="4080" y1="2436" x2="4145" y2="2436"/><line x1="4080" y1="2458" x2="4145" y2="2458"/><line x1="4080" y1="2498" x2="4145" y2="2498"/><line x1="4080" y1="2611" x2="4210" y2="2611"/><line x1="4080" y1="2616" x2="4145" y2="2616"/>
<line x1="4134" y1="2390" x2="4134" y2="2620"/><line x1="4167" y1="2390" x2="4167" y2="2611"/><line x1="4201" y1="2390" x2="4201" y2="2611"/>
<line x1="4215" y1="2400" x2="4289" y2="2400"/><polygon points="4225,2400 4245,2400 4235,2412"/>
<line x1="4215" y1="2611" x2="4289" y2="2611"/><polygon points="4225,2611 4245,2611 4235,2623"/>
<line x1="4215" y1="2628" x2="4289" y2="2628"/><polygon points="4225,2628 4245,2628 4235,2616"/>
<line x1="3730" y1="2384" x2="3815" y2="2384"/><polygon points="3772,2384 3792,2384 3782,2396"/>
</g>
<g class="d"><text x="3285" y="2394">7.000</text><text x="3285" y="2605">±0.000</text><text x="3285" y="2647">-0.150</text>
<text x="4240" y="2394">7.000</text><text x="4240" y="2605">±0.000</text><text x="4240" y="2647">-0.150</text>
<text x="3735" y="2378">7.800</text><text x="3784" y="2643" text-anchor="middle">20000</text>
<text transform="translate(3361,2530) rotate(-90)">7800</text><text transform="translate(3395,2530) rotate(-90)">7000</text>
<text transform="translate(3428,2410) rotate(-90)">800</text><text transform="translate(3428,2456) rotate(-90)">800</text><text transform="translate(3428,2497) rotate(-90)">1400</text><text transform="translate(3428,2580) rotate(-90)">4000</text><text transform="translate(3428,2640) rotate(-90)">150</text>
<text transform="translate(3395,2410) rotate(-90)">800</text>
<text transform="translate(4128,2410) rotate(-90)">800</text><text transform="translate(4128,2497) rotate(-90)">1400</text><text transform="translate(4128,2580) rotate(-90)">4000</text><text transform="translate(4128,2640) rotate(-90)">150</text>
<text transform="translate(4161,2530) rotate(-90)">7000</text><text transform="translate(4161,2440) rotate(-90)">800</text><text transform="translate(4195,2530) rotate(-90)">7800</text><text transform="translate(4195,2410) rotate(-90)">800</text></g>
<g class="ax"><text x="3502" y="2704">A</text><text x="4067" y="2704">B</text></g>
<text x="3592" y="2790" class="t" textLength="384">3号厂房 Ⓐ~Ⓑ轴 立面图</text>
<line x1="3592" y1="2805" x2="3976" y2="2805" stroke="#22dd22" stroke-width="6"/><line x1="3592" y1="2813" x2="3976" y2="2813" stroke="#22dd22" stroke-width="2"/>
</g>
<g transform="translate(0,491)">
<rect x="3502" y="2390" width="565" height="225" class="c"/>
<rect x="3502" y="2413" width="565" height="23" fill="url(#hatch)"/>
<line x1="3502" y1="2447" x2="4067" y2="2447" stroke="#1f5fb5" stroke-width="22" stroke-dasharray="2 54" stroke-dashoffset="-56"/>
<line x1="3502" y1="2458" x2="4067" y2="2458" stroke="#1f5fb5" stroke-width="2"/>
<line x1="3502" y1="2611" x2="4067" y2="2611" class="c"/>
<g class="g">
<line x1="3502" y1="2615" x2="3502" y2="2680"/><line x1="4067" y1="2615" x2="4067" y2="2680"/>
<line x1="3502" y1="2649" x2="4067" y2="2649"/>
<circle cx="3502" cy="2696" r="15"/><circle cx="4067" cy="2696" r="15"/>
<line x1="3280" y1="2400" x2="3345" y2="2400"/><polygon points="3322,2400 3342,2400 3332,2412"/>
<line x1="3280" y1="2611" x2="3345" y2="2611"/><polygon points="3322,2611 3342,2611 3332,2623"/>
<line x1="3280" y1="2628" x2="3345" y2="2628"/><polygon points="3322,2628 3342,2628 3332,2616"/>
<line x1="3367" y1="2390" x2="3367" y2="2611"/><line x1="3401" y1="2390" x2="3401" y2="2611"/><line x1="3434" y1="2390" x2="3434" y2="2620"/>
<line x1="3360" y1="2390" x2="3490" y2="2390"/><line x1="3390" y1="2412" x2="3490" y2="2412"/><line x1="3425" y1="2436" x2="3490" y2="2436"/><line x1="3425" y1="2458" x2="3490" y2="2458"/><line x1="3425" y1="2498" x2="3490" y2="2498"/><line x1="3360" y1="2611" x2="3490" y2="2611"/><line x1="3425" y1="2616" x2="3490" y2="2616"/>
<line x1="4080" y1="2390" x2="4210" y2="2390"/><line x1="4080" y1="2412" x2="4180" y2="2412"/><line x1="4080" y1="2436" x2="4145" y2="2436"/><line x1="4080" y1="2458" x2="4145" y2="2458"/><line x1="4080" y1="2498" x2="4145" y2="2498"/><line x1="4080" y1="2611" x2="4210" y2="2611"/><line x1="4080" y1="2616" x2="4145" y2="2616"/>
<line x1="4134" y1="2390" x2="4134" y2="2620"/><line x1="4167" y1="2390" x2="4167" y2="2611"/><line x1="4201" y1="2390" x2="4201" y2="2611"/>
<line x1="4215" y1="2400" x2="4289" y2="2400"/><polygon points="4225,2400 4245,2400 4235,2412"/>
<line x1="4215" y1="2611" x2="4289" y2="2611"/><polygon points="4225,2611 4245,2611 4235,2623"/>
<line x1="4215" y1="2628" x2="4289" y2="2628"/><polygon points="4225,2628 4245,2628 4235,2616"/>
<line x1="3730" y1="2384" x2="3815" y2="2384"/><polygon points="3772,2384 3792,2384 3782,2396"/>
</g>
<g class="d"><text x="3285" y="2394">7.000</text><text x="3285" y="2605">±0.000</text><text x="3285" y="2647">-0.150</text>
<text x="4240" y="2394">7.000</text><text x="4240" y="2605">±0.000</text><text x="4240" y="2647">-0.150</text>
<text x="3735" y="2378">7.800</text><text x="3784" y="2643" text-anchor="middle">20000</text>
<text transform="translate(3361,2530) rotate(-90)">7800</text><text transform="translate(3395,2530) rotate(-90)">7000</text>
<text transform="translate(3428,2410) rotate(-90)">800</text><text transform="translate(3428,2456) rotate(-90)">800</text><text transform="translate(3428,2497) rotate(-90)">1400</text><text transform="translate(3428,2580) rotate(-90)">4000</text><text transform="translate(3428,2640) rotate(-90)">150</text>
<text transform="translate(3395,2410) rotate(-90)">800</text>
<text transform="translate(4128,2410) rotate(-90)">800</text><text transform="translate(4128,2497) rotate(-90)">1400</text><text transform="translate(4128,2580) rotate(-90)">4000</text><text transform="translate(4128,2640) rotate(-90)">150</text>
<text transform="translate(4161,2530) rotate(-90)">7000</text><text transform="translate(4161,2440) rotate(-90)">800</text><text transform="translate(4195,2530) rotate(-90)">7800</text><text transform="translate(4195,2410) rotate(-90)">800</text></g>
<g class="ax"><text x="3502" y="2704">B</text><text x="4067" y="2704">A</text></g>
<text x="3592" y="2780" class="t" textLength="384">3号厂房 Ⓑ~Ⓐ轴 立面图</text>
<line x1="3592" y1="2804" x2="3976" y2="2804" stroke="#22dd22" stroke-width="6"/><line x1="3592" y1="2812" x2="3976" y2="2812" stroke="#22dd22" stroke-width="2"/>
</g>

<!-- red overlay -->
<text x="2080" y="775" font-size="92" letter-spacing="4" style="fill:#e8262a;font-family:'Liberation Serif','Noto Serif CJK SC',serif" textLength="760">拟修改后建筑方案</text>
</svg>
</body></html>
